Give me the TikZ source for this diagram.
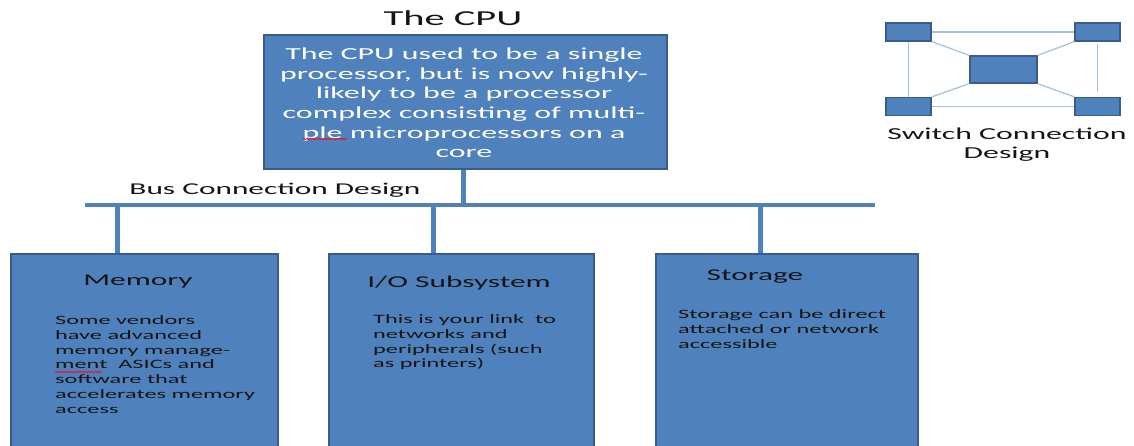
\documentclass[tikz,border=0pt]{standalone}
\usepackage{fontspec}
\setmainfont[FakeStretch=1.9]{Carlito}
\usetikzlibrary{decorations.pathmorphing}
\definecolor{boxfill}{HTML}{4F81BD}
\definecolor{boxline}{HTML}{385D8A}
\definecolor{thinline}{HTML}{A7BFDE}
\definecolor{txt}{HTML}{151515}
\begin{document}
\begin{tikzpicture}[x=1pt,y=-1pt,
  block/.style={draw=boxline, line width=2pt, fill=boxfill, inner sep=0pt, anchor=north west},
  wire/.style={draw=boxfill, line width=5pt},
  busline/.style={draw=boxfill, line width=4pt},
  sbox/.style={draw=boxline, line width=1.2pt, fill=boxfill, inner sep=0pt},
  slink/.style={draw=thinline, line width=1.2pt},
  head/.style={font=\fontsize{16.5}{19}\selectfont, text=txt, inner sep=0pt},
  body/.style={font=\fontsize{12.8}{14.8}\selectfont, text=txt, align=left, inner sep=0pt, anchor=north west},
  squig/.style={draw=red, line width=0.6pt, decorate, decoration={snake, amplitude=0.8pt, segment length=3pt}}
]
\useasboundingbox (0,0) rectangle (1134,445);
\clip (0,0) rectangle (1134,445);
\fill[white] (0,0) rectangle (1134,445);

% CPU
\node[font=\fontsize{21.3}{24}\selectfont, text=txt, inner sep=0pt] (title) at (453,18) {The CPU};
\node[block, minimum width=403, minimum height=134] (cpu) at (263,34) {};
\node[font=\fontsize{16.8}{19.6}\selectfont, text=white, align=center, inner sep=0pt] (cputext) at (464,103)
  {The CPU used to be a single\\processor, but is now highly-\\likely to be a processor\\complex consisting of multi-\\ple microprocessors on a\\core};

% bus
\coordinate (busL) at (85,205);
\coordinate (busR) at (875,205);
\coordinate (cpuStem) at (463,205);
\draw[busline] (busL) -- (busR);
\draw[wire] (cpu.south -| cpuStem) -- (cpuStem);
\node[head] (buslabel) at (275,190) {Bus Connection Design};

% lower boxes
\node[block, minimum width=267, minimum height=220] (mem) at (10,253) {};
\node[block, minimum width=265, minimum height=220] (io) at (328,253) {};
\node[block, minimum width=262, minimum height=220] (sto) at (655,253) {};

\coordinate (memStem) at (117,205);
\coordinate (ioStem) at (433,205);
\coordinate (stoStem) at (760,205);
\draw[wire] (memStem) -- (memStem |- mem.north);
\draw[wire] (ioStem) -- (ioStem |- io.north);
\draw[wire] (stoStem) -- (stoStem |- sto.north);

\node[head] (memhead) at (138,282) {Memory};
\node[head] (iohead) at (459,283) {I/O Subsystem};
\node[head] (stohead) at (755,277) {Storage};

\node[body] (membody) at (55,315.5) {Some vendors\\have advanced\\memory manage-\\ment\ \ ASICs and\\software that\\accelerates memory\\access};
\node[body] (iobody) at (373,314.5) {This is your link\ \ to\\networks and\\peripherals (such\\as printers)};
\node[body] (stobody) at (678,309.5) {Storage can be direct\\attached or network\\accessible};

% spell-check marks
\coordinate (sqA1) at (303,139);
\coordinate (sqA2) at (347,139);
\coordinate (sqB1) at (55,372);
\coordinate (sqB2) at (102,372);
\draw[squig] (sqA1) -- (sqA2);
\draw[squig] (sqB1) -- (sqB2);

% switch connection design
\node[sbox, minimum width=45, minimum height=18] (tl) at (908.5,32) {};
\node[sbox, minimum width=45, minimum height=18] (tr) at (1097.5,32) {};
\node[sbox, minimum width=45, minimum height=18] (bl) at (908.5,106.5) {};
\node[sbox, minimum width=45, minimum height=18] (br) at (1097.5,106.5) {};
\node[sbox, minimum width=67, minimum height=27] (ctr) at (1003.5,69.5) {};
\draw[slink] (tl.east) -- (tr.west);
\draw[slink] (bl.east) -- (br.west);
\draw[slink] (tl.south) -- (bl.north);
\draw[slink, shorten <=2pt, shorten >=5pt] (tr.south) -- (br.north);
\draw[slink] (tl.south east) -- (ctr.north west);
\draw[slink] (tr.south west) -- (ctr.north east);
\draw[slink] (bl.north east) -- (ctr.south west);
\draw[slink] (br.north west) -- (ctr.south east);
\node[font=\fontsize{16.7}{19}\selectfont, align=center, text=txt, inner sep=0pt] (swlabel) at (1007,145) {Switch Connection\\Design};
\end{tikzpicture}
\end{document}
